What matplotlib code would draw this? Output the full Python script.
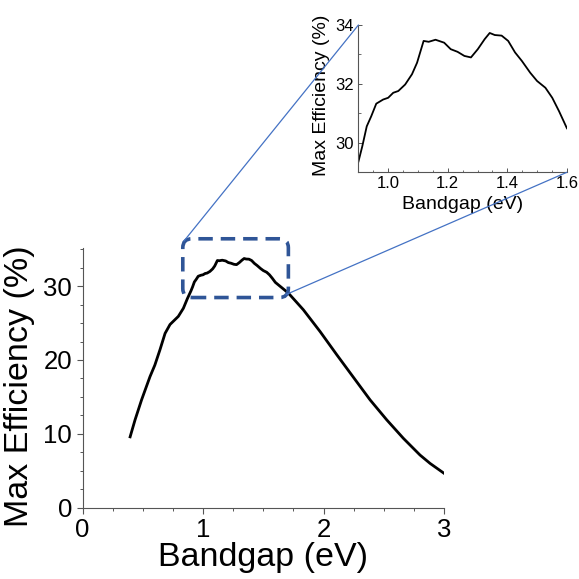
import matplotlib.pyplot as plt
from matplotlib.patches import FancyBboxPatch, ConnectionPatch
from matplotlib.ticker import MultipleLocator

plt.rcParams['font.family'] = ['Liberation Sans', 'DejaVu Sans']

# curve (bandgap in eV, max efficiency in %)
bandgap = [0.395, 0.436, 0.49, 0.56, 0.60, 0.643, 0.685, 0.726, 0.795, 0.837,
           0.87, 0.90, 0.913, 0.928, 0.943, 0.96, 0.983, 1.00, 1.017, 1.034,
           1.057, 1.08, 1.097, 1.119, 1.136, 1.159, 1.188, 1.21, 1.233, 1.256,
           1.278, 1.301, 1.324, 1.341, 1.358, 1.381, 1.403, 1.426, 1.449, 1.477,
           1.50, 1.528, 1.551, 1.574, 1.60, 1.708, 1.832, 1.971, 2.11, 2.247,
           2.386, 2.524, 2.662, 2.80, 2.884, 3.00]
efficiency = [9.6, 11.9, 14.6, 17.75, 19.3, 21.4, 23.6, 24.8, 25.9, 27.0,
              28.3, 29.36, 29.88, 30.56, 30.9, 31.33, 31.47, 31.53, 31.7, 31.76,
              31.98, 32.33, 32.72, 33.46, 33.43, 33.5, 33.4, 33.18, 33.09, 32.95,
              32.9, 33.18, 33.52, 33.73, 33.66, 33.64, 33.46, 33.07, 32.78, 32.38,
              32.1, 31.87, 31.53, 31.07, 30.5, 29.05, 26.8, 23.85, 20.7, 17.67,
              14.6, 11.9, 9.4, 7.14, 6.0, 4.66]

main_xticks = [0, 1, 2, 3]
main_yticks = [0, 10, 20, 30]
inset_xticks = [1.0, 1.2, 1.4, 1.6]
inset_yticks = [30, 32, 34]

# zoom window on the main axes
zoom_x = (0.832, 1.708)
zoom_y = (28.45, 36.4)

box_color = '#2F5597'
link_color = '#4472C4'
axis_color = '#555555'

fig = plt.figure(figsize=(5.79, 5.79), dpi=100)
ax = fig.add_axes([0.1425, 0.123, 0.6245, 0.448])
ins = fig.add_axes([0.619, 0.7024, 0.36, 0.2544])

# ---------- main plot ----------
ax.plot(bandgap, efficiency, color='black', lw=2.0)
ax.set_xlim(0, 3)
ax.set_ylim(0, 35.1)
ax.set_xticks(main_xticks)
ax.set_yticks(main_yticks)
ax.xaxis.set_minor_locator(MultipleLocator(0.25))
ax.yaxis.set_minor_locator(MultipleLocator(2.5))
ax.tick_params(which='major', direction='out', length=4.5, width=0.8,
               color=axis_color, labelsize=18.5, pad=3)
ax.tick_params(which='minor', direction='out', length=2.5, width=0.7,
               color=axis_color)
for s in ['top', 'right']:
    ax.spines[s].set_visible(False)
for s in ['left', 'bottom']:
    ax.spines[s].set_color(axis_color)
    ax.spines[s].set_linewidth(0.8)
ax.set_xlabel('Bandgap (eV)', fontsize=24.5)
ax.set_ylabel('Max Efficiency (%)', fontsize=24.5)
ax.xaxis.set_label_coords(0.5, -0.19)
ax.xaxis.label.set_va('center')
ax.yaxis.set_label_coords(-0.175, 0.47)
ax.yaxis.label.set_va('center')
ax.yaxis.label.set_ha('center')

# dashed rounded box (aspect corrected so corners look round)
px_per_x = 0.6245 * 579 / 3.0
px_per_y = 0.448 * 579 / 35.1
box = FancyBboxPatch((zoom_x[0], zoom_y[0]), zoom_x[1] - zoom_x[0],
                     zoom_y[1] - zoom_y[0],
                     boxstyle='round,pad=0,rounding_size=0.075',
                     mutation_aspect=px_per_x / px_per_y,
                     fill=False, ec=box_color, lw=2.6,
                     linestyle=(0, (4, 2.2)), clip_on=False, zorder=5)
ax.add_patch(box)

# ---------- inset ----------
ins.plot(bandgap, efficiency, color='black', lw=1.3)
ins.set_xlim(0.9, 1.6)
ins.set_ylim(29, 34)
ins.set_xticks(inset_xticks)
ins.set_yticks(inset_yticks)
ins.xaxis.set_minor_locator(MultipleLocator(0.05))
ins.yaxis.set_minor_locator(MultipleLocator(1))
ins.tick_params(which='major', direction='in', length=3, width=0.7,
                color=axis_color, labelsize=12, pad=3)
ins.tick_params(which='minor', direction='in', length=1.8, width=0.6,
                color=axis_color)
for s in ['top', 'right']:
    ins.spines[s].set_visible(False)
for s in ['left', 'bottom']:
    ins.spines[s].set_color(axis_color)
    ins.spines[s].set_linewidth(0.8)
ins.set_xlabel('Bandgap (eV)', fontsize=14)
ins.set_ylabel('Max Efficiency (%)', fontsize=14)
ins.xaxis.set_label_coords(0.5, -0.22)
ins.xaxis.label.set_va('center')
ins.yaxis.set_label_coords(-0.176, 0.525)
ins.yaxis.label.set_va('center')
ins.yaxis.label.set_ha('center')

# ---------- connector lines ----------
for xyA, xyB in [((zoom_x[0] + 0.01, zoom_y[1] - 0.3), (0, 1)),
                 ((zoom_x[1] - 0.02, zoom_y[0] + 0.4), (1, 0))]:
    con = ConnectionPatch(xyA=xyA, coordsA=ax.transData,
                          xyB=xyB, coordsB=ins.transAxes,
                          color=link_color, lw=0.9, zorder=1)
    fig.add_artist(con)

fig.savefig('out.png', dpi=100)
